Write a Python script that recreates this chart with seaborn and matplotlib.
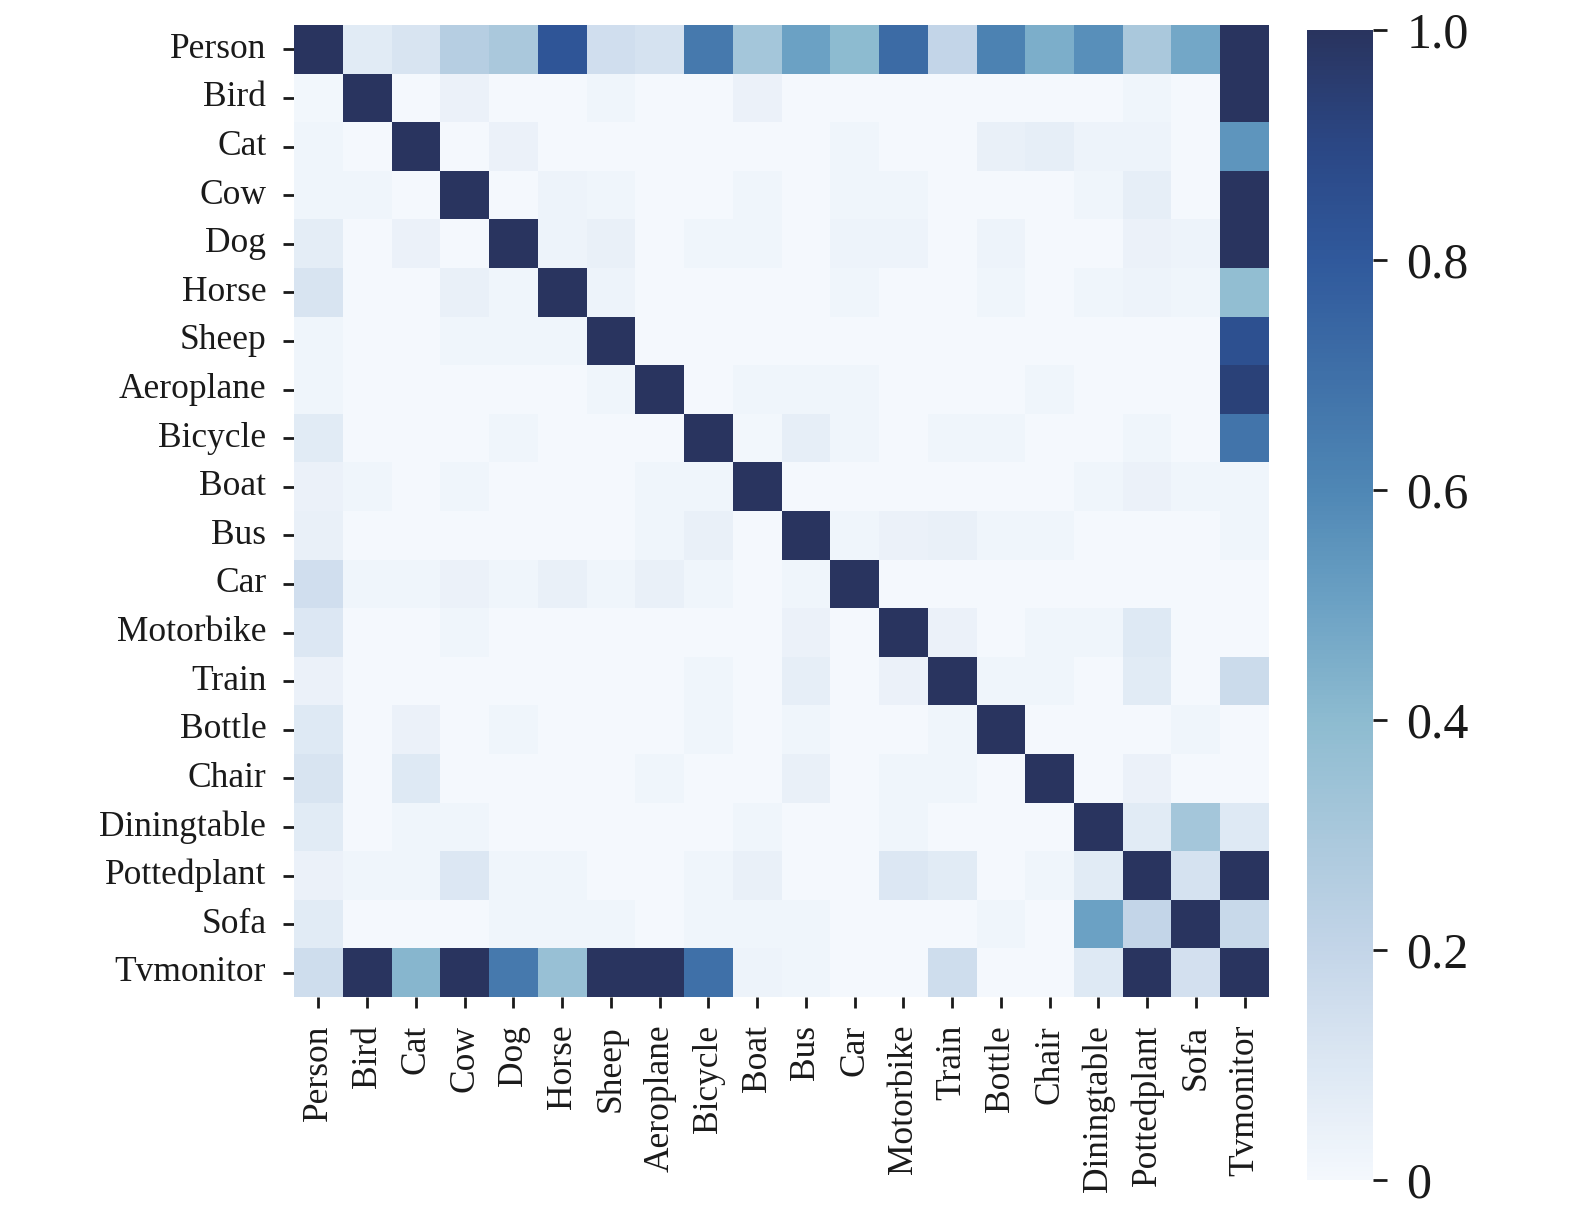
import numpy as np
import pandas as pd
import matplotlib
matplotlib.use("Agg")
import matplotlib.pyplot as plt
from matplotlib.colors import LinearSegmentedColormap
import seaborn as sns

# VOC class names, same order on both axes
classes = ["Person", "Bird", "Cat", "Cow", "Dog", "Horse", "Sheep", "Aeroplane",
           "Bicycle", "Boat", "Bus", "Car", "Motorbike", "Train", "Bottle", "Chair",
           "Diningtable", "Pottedplant", "Sofa", "Tvmonitor"]

# co-occurrence values, one list per row
person      = [1.00, 0.08, 0.12, 0.25, 0.30, 0.82, 0.15, 0.13, 0.66, 0.32, 0.50, 0.40, 0.72, 0.20, 0.62, 0.45, 0.57, 0.30, 0.48, 1.00]
bird        = [0.01, 1.00, 0.00, 0.04, 0.00, 0.00, 0.02, 0.00, 0.00, 0.04, 0.00, 0.00, 0.00, 0.00, 0.00, 0.00, 0.00, 0.02, 0.00, 1.00]
cat         = [0.02, 0.00, 1.00, 0.00, 0.04, 0.00, 0.00, 0.00, 0.00, 0.00, 0.00, 0.02, 0.00, 0.00, 0.05, 0.06, 0.03, 0.03, 0.00, 0.55]
cow         = [0.02, 0.02, 0.00, 1.00, 0.00, 0.03, 0.02, 0.00, 0.00, 0.02, 0.00, 0.02, 0.02, 0.00, 0.00, 0.00, 0.02, 0.06, 0.00, 1.00]
dog         = [0.07, 0.00, 0.04, 0.00, 1.00, 0.03, 0.05, 0.00, 0.02, 0.02, 0.00, 0.03, 0.03, 0.00, 0.03, 0.00, 0.00, 0.04, 0.03, 1.00]
horse       = [0.12, 0.00, 0.00, 0.05, 0.02, 1.00, 0.03, 0.00, 0.00, 0.00, 0.00, 0.02, 0.00, 0.00, 0.02, 0.00, 0.02, 0.03, 0.02, 0.38]
sheep       = [0.02, 0.00, 0.00, 0.02, 0.02, 0.02, 1.00, 0.00, 0.00, 0.00, 0.00, 0.00, 0.00, 0.00, 0.00, 0.00, 0.00, 0.00, 0.00, 0.85]
aeroplane   = [0.02, 0.00, 0.00, 0.00, 0.00, 0.00, 0.02, 1.00, 0.00, 0.02, 0.02, 0.02, 0.00, 0.00, 0.00, 0.02, 0.00, 0.00, 0.00, 0.93]
bicycle     = [0.08, 0.00, 0.00, 0.00, 0.02, 0.00, 0.00, 0.00, 1.00, 0.01, 0.06, 0.02, 0.00, 0.02, 0.02, 0.00, 0.00, 0.02, 0.00, 0.68]
boat        = [0.04, 0.02, 0.00, 0.02, 0.00, 0.00, 0.00, 0.02, 0.02, 1.00, 0.00, 0.00, 0.00, 0.00, 0.00, 0.00, 0.02, 0.04, 0.02, 0.02]
bus         = [0.05, 0.00, 0.00, 0.00, 0.00, 0.00, 0.00, 0.02, 0.05, 0.00, 1.00, 0.02, 0.04, 0.05, 0.02, 0.02, 0.00, 0.00, 0.00, 0.02]
car         = [0.15, 0.02, 0.02, 0.04, 0.02, 0.05, 0.02, 0.05, 0.02, 0.00, 0.02, 1.00, 0.00, 0.00, 0.00, 0.00, 0.00, 0.00, 0.00, 0.00]
motorbike   = [0.10, 0.00, 0.00, 0.02, 0.00, 0.00, 0.00, 0.00, 0.00, 0.00, 0.04, 0.00, 1.00, 0.04, 0.00, 0.02, 0.02, 0.09, 0.00, 0.00]
train       = [0.04, 0.00, 0.00, 0.00, 0.00, 0.00, 0.00, 0.00, 0.02, 0.00, 0.06, 0.00, 0.04, 1.00, 0.02, 0.02, 0.00, 0.08, 0.00, 0.17]
bottle      = [0.09, 0.00, 0.04, 0.00, 0.02, 0.00, 0.00, 0.00, 0.02, 0.00, 0.02, 0.00, 0.00, 0.02, 1.00, 0.00, 0.00, 0.00, 0.02, 0.00]
chair       = [0.12, 0.00, 0.09, 0.00, 0.00, 0.00, 0.00, 0.02, 0.00, 0.00, 0.05, 0.00, 0.02, 0.02, 0.00, 1.00, 0.00, 0.04, 0.00, 0.00]
diningtable = [0.08, 0.00, 0.02, 0.02, 0.00, 0.00, 0.00, 0.00, 0.00, 0.02, 0.00, 0.00, 0.02, 0.00, 0.00, 0.00, 1.00, 0.08, 0.32, 0.09]
pottedplant = [0.04, 0.02, 0.02, 0.10, 0.02, 0.02, 0.00, 0.00, 0.02, 0.05, 0.00, 0.00, 0.10, 0.08, 0.00, 0.02, 0.08, 1.00, 0.13, 1.00]
sofa        = [0.08, 0.00, 0.00, 0.00, 0.02, 0.02, 0.02, 0.00, 0.02, 0.02, 0.02, 0.00, 0.00, 0.00, 0.02, 0.00, 0.50, 0.20, 1.00, 0.18]
tvmonitor   = [0.16, 1.00, 0.42, 1.00, 0.66, 0.36, 1.00, 1.00, 0.70, 0.03, 0.02, 0.00, 0.00, 0.16, 0.00, 0.00, 0.09, 1.00, 0.14, 1.00]

rows = [person, bird, cat, cow, dog, horse, sheep, aeroplane, bicycle, boat, bus, car,
        motorbike, train, bottle, chair, diningtable, pottedplant, sofa, tvmonitor]
df = pd.DataFrame(rows, index=classes, columns=classes)

cbar_ticks = [0, 0.2, 0.4, 0.6, 0.8, 1.0]
cbar_labels = ["0", "0.2", "0.4", "0.6", "0.8", "1.0"]

# colour ramp sampled from the colourbar
cmap = LinearSegmentedColormap.from_list("voc_blues", [
    "#f4f8fd", "#dce7f3", "#c3d5e8", "#a9c8dc", "#8dbbd0", "#6ca2c4",
    "#4f87b5", "#3f70a8", "#30599c", "#2b4785", "#29345f"])

sns.set_theme(style="white")
plt.rcParams['font.family'] = ['Liberation Serif', 'DejaVu Serif']
plt.rcParams['text.color'] = '#1a1a1a'
plt.rcParams['xtick.color'] = '#1a1a1a'
plt.rcParams['ytick.color'] = '#1a1a1a'

fig = plt.figure(figsize=(15.75, 12.16), dpi=100)
ax = fig.add_axes([0.1867, 0.1801, 0.619, 0.7993])
cax = fig.add_axes([0.8298, 0.0296, 0.0419, 0.9457])

sns.heatmap(df, ax=ax, cbar_ax=cax, cmap=cmap, vmin=0, vmax=1,
            square=False, linewidths=0, cbar_kws={"ticks": cbar_ticks})

ax.tick_params(axis="both", which="major", length=8, width=2, labelsize=25.5,
               bottom=True, left=True)
ax.tick_params(axis="y", pad=12)
ax.tick_params(axis="x", pad=12)
ax.set_xticklabels(classes, rotation=90)
ax.set_yticklabels(classes, rotation=0)
ax.set_xlabel("")
ax.set_ylabel("")

cax.set_yticklabels(cbar_labels)
cax.tick_params(axis="y", length=10, width=2, labelsize=36, right=True, pad=14)

fig.savefig("out.png", dpi=100)
